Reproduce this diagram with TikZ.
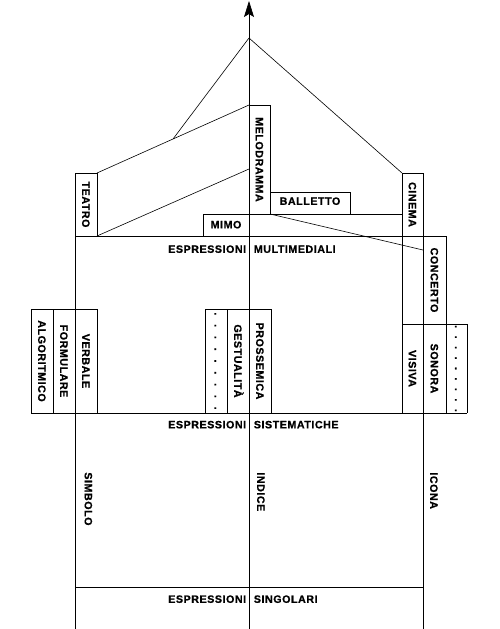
\documentclass[tikz,border=0pt]{standalone}
\usepackage{fontspec}
\setmainfont{Liberation Sans}[LetterSpace=5,BoldFont={Liberation Sans Bold},BoldFeatures={FakeBold=0.8}]
\usetikzlibrary{arrows.meta,calc}
\newcommand\mydotsrow[1]{.\kern#1.\kern#1.\kern#1.\kern#1.\kern#1.\kern#1.\kern#1.\kern#1.}
\begin{document}
\begin{tikzpicture}[x=1pt,y=-1pt,line width=0.7pt,
  lab/.style={inner sep=0pt,text height=7.7pt,text depth=0pt,font=\fontsize{10.7}{12}\selectfont\bfseries},
  vlab/.style={lab,rotate=-90},
  dotlab/.style={vlab,text height=3pt},
  thin line/.style={line width=0.6pt}]
\useasboundingbox (0,0) rectangle (500,629);
% key points
\coordinate (apex) at (249,38);
\coordinate (tip) at (249,1);
\coordinate (base) at (249,629);
\coordinate (teatroTR) at (97,173);
\coordinate (teatroBR) at (97,236);
\coordinate (meloTL) at (249,105);
\coordinate (meloMid) at (249,169);
\coordinate (meloBR) at (270,214);
\coordinate (cineTL) at (402,173);
\coordinate (concL) at (423,250);
\coordinate (roofL) at ($(teatroTR)!0.5!(meloTL)$);
% central axis with arrow
\draw[-{Stealth[length=16pt,width=10pt,inset=3pt]}] (base) -- (tip);
% roof
\draw[thin line] (apex) -- (roofL);
\draw[thin line] (apex) -- (cineTL);
\draw[thin line] (teatroTR) -- (meloTL);
\draw[thin line] (teatroBR) -- (meloMid);
\draw[thin line] (meloBR) -- (concL);
% upper boxes
\draw (75,629) -- (75,173) -- (97,173) -- (97,236);
\draw (249,105) -- (270,105) -- (270,214);
\draw (270,192) -- (350,192) -- (350,214);
\draw (203,236) -- (203,214) -- (402,214);
\draw (402,413) -- (402,173) -- (423,173) -- (423,629);
\draw (75,236) -- (446,236) -- (446,413);
% sistematiche row
\draw (31,413) -- (31,309) -- (97,309) -- (97,413);
\draw (53,309) -- (53,413);
\draw (205,413) -- (205,309) -- (271,309) -- (271,413);
\draw (227,309) -- (227,413);
\draw (402,324) -- (467,324) -- (467,413);
\draw (31,413) -- (467,413);
% singolari
\draw (75,587) -- (423,587);
% labels
\node[vlab] (teatro) at (86,204.5) {TEATRO};
\node[vlab] (melo) at (259.5,159.5) {MELODRAMMA};
\node[vlab] (cinema) at (412.5,204.5) {CINEMA};
\node[lab] (balletto) at (310,201) {BALLETTO};
\node[lab] (mimo) at (226,224.5) {MIMO};
\node[lab,anchor=east] (em1) at (246.5,249) {ESPRESSIONI};
\node[lab,anchor=west] (em2) at (253.5,249) {MULTIMEDIALI};
\node[vlab] (concerto) at (434.5,280) {CONCERTO};
\node[vlab] (algo) at (42,361) {ALGORITMICO};
\node[vlab] (form) at (64,361) {FORMULARE};
\node[vlab] (verb) at (86,361) {VERBALE};
\node[dotlab] (dots1) at (216,361) {\mydotsrow{8.8pt}};
\node[vlab] (gest) at (238,361) {GESTUALITÀ};
\node[vlab] (pross) at (260,361) {PROSSEMICA};
\node[vlab] (visiva) at (412.5,368.5) {VISIVA};
\node[vlab] (sonora) at (434.5,368.5) {SONORA};
\node[dotlab] (dots2) at (456.5,368.5) {\mydotsrow{7.5pt}};
\node[lab,anchor=east] (es1) at (246.5,424.5) {ESPRESSIONI};
\node[lab,anchor=west] (es2) at (253.5,424.5) {SISTEMATICHE};
\node[vlab,anchor=west] (simbolo) at (88.5,472) {SIMBOLO};
\node[vlab,anchor=west] (indice) at (261,472) {INDICE};
\node[vlab,anchor=west] (icona) at (434,472) {ICONA};
\node[lab,anchor=east] (eg1) at (246.5,599) {ESPRESSIONI};
\node[lab,anchor=west] (eg2) at (253.5,599) {SINGOLARI};
\end{tikzpicture}
\end{document}
